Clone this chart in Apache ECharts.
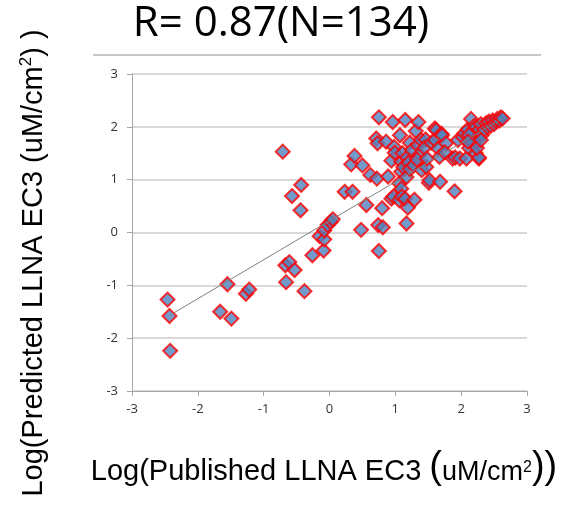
<!DOCTYPE html>
<html>
<head>
<meta charset="utf-8">
<script src="https://cdn.jsdelivr.net/npm/echarts@6/dist/echarts.min.js"></script>
<style>
  html, body { margin: 0; padding: 0; background: #fff; }
  #chart { width: 578px; height: 505px; }
</style>
</head>
<body>
<div id="chart"></div>
<script>
// published (x) vs predicted (y), log units
const points = [
  [-2.46, -1.27], [-2.43, -1.58], [-2.42, -2.24],
  [-1.66, -1.50], [-1.55, -0.98], [-1.49, -1.63], [-1.27, -1.16], [-1.22, -1.08],
  [-0.71, 1.53], [-0.67, -0.62], [-0.66, -0.94], [-0.61, -0.56], [-0.57, 0.69], [-0.53, -0.71],
  [-0.43, 0.90], [-0.44, 0.42], [-0.38, -1.11], [-0.26, -0.43],
  [-0.15, -0.07], [-0.09, -0.34], [-0.08, -0.13], [-0.08, 0.04], [-0.03, 0.14], [0.02, 0.20], [0.05, 0.25],
  [0.23, 0.77], [0.35, 0.77], [0.33, 1.29], [0.38, 1.45], [0.50, 1.27], [0.48, 0.05], [0.56, 0.52],
  [0.62, 1.09], [0.72, 1.02], [0.75, 2.18], [0.71, 1.78], [0.73, 1.69], [0.74, 0.14], [0.81, 0.10],
  [0.75, -0.35], [0.80, 0.46], [0.86, 1.72], [0.89, 1.06], [0.94, 0.64], [0.96, 2.09], [0.94, 1.36],
  [0.98, 1.62], [0.99, 1.51], [0.97, 0.68],
  [1.06, 0.93], [1.07, 1.84], [1.09, 1.34], [1.09, 1.15], [1.06, 0.61], [1.09, 0.83], [1.11, 1.50],
  [1.12, 1.24], [1.10, 0.68], [1.15, 2.13], [1.17, 1.05], [1.15, 0.64], [1.19, 0.47], [1.17, 0.17],
  [1.18, 1.42], [1.20, 1.32], [1.22, 1.70], [1.22, 1.20], [1.25, 1.56], [1.28, 1.27], [1.29, 0.62],
  [1.31, 1.92], [1.34, 1.65], [1.35, 2.09], [1.37, 1.48], [1.39, 1.75], [1.33, 1.38], [1.40, 1.18],
  [1.46, 1.76], [1.47, 1.24], [1.44, 1.60], [1.48, 1.40],
  [1.51, 0.94], [1.52, 0.99], [1.55, 1.70], [1.60, 1.97], [1.60, 1.75], [1.62, 1.94], [1.65, 1.59],
  [1.67, 1.43], [1.68, 0.96], [1.70, 1.87], [1.71, 1.84], [1.77, 1.69], [1.75, 1.52],
  [1.87, 1.40], [1.90, 0.78], [1.91, 1.42], [1.98, 1.40], [1.95, 1.75],
  [2.03, 1.80], [2.05, 1.88], [2.08, 1.40], [2.10, 1.95], [2.12, 1.60], [2.15, 2.15], [2.15, 1.75],
  [2.18, 1.90], [2.20, 2.02], [2.20, 1.66], [2.22, 1.50], [2.23, 2.00], [2.25, 1.80], [2.27, 1.40],
  [2.27, 1.42], [2.28, 1.95], [2.30, 2.05], [2.32, 1.85], [2.35, 1.95], [2.38, 2.07], [2.40, 2.00],
  [2.42, 2.10], [2.45, 2.02], [2.48, 2.12], [2.50, 2.05], [2.53, 2.10], [2.55, 2.15], [2.58, 2.12],
  [2.60, 2.18], [2.63, 2.16], [2.12, 1.85], [2.18, 1.70], [2.24, 1.60], [2.30, 1.75], [2.10, 1.72]
];
const trendX = [-2.43, 2.63];
const trendY = [-1.57, 2.16];
const axisTicks = [-3, -2, -1, 0, 1, 2, 3];

const titleText = 'R= 0.87(N=134)';

const chart = echarts.init(document.getElementById('chart'));

chart.setOption({
  animation: false,
  grid: { left: 132, right: 51, top: 74, bottom: 114 },
  xAxis: {
    type: 'value',
    min: axisTicks[0],
    max: axisTicks[axisTicks.length - 1],
    interval: 1,
    axisLine: { onZero: false, lineStyle: { color: '#a6a6a6', width: 1 } },
    axisTick: { show: true, length: 5, lineStyle: { color: '#a6a6a6' } },
    axisLabel: { color: '#333', fontSize: 13, fontFamily: 'Open Sans', margin: 12 },
    splitLine: { show: false }
  },
  yAxis: {
    type: 'value',
    min: axisTicks[0],
    max: axisTicks[axisTicks.length - 1],
    interval: 1,
    axisLine: { show: true, onZero: false, lineStyle: { color: '#a6a6a6', width: 1 } },
    axisTick: { show: true, length: 5, lineStyle: { color: '#a6a6a6' } },
    axisLabel: { color: '#333', fontSize: 13, fontFamily: 'Open Sans', margin: 14 },
    splitLine: { show: true, lineStyle: { color: '#d9d9d9', width: 2 } }
  },
  graphic: [
    {
      type: 'line',
      shape: { x1: 93, y1: 55, x2: 541, y2: 55 },
      style: { stroke: '#c8c8c8', lineWidth: 2 }
    },
    {
      type: 'text',
      x: 281, y: 24,
      style: {
        text: titleText,
        font: '42px "Open Sans"',
        fill: '#000',
        textAlign: 'center',
        textVerticalAlign: 'middle'
      }
    },
    {
      type: 'text',
      x: 324, y: 466,
      style: {
        text: '{a|Log(Published LLNA EC3 }{p|(}{b|uM/cm}{s|2}{p|))}',
        textAlign: 'center',
        textVerticalAlign: 'middle',
        fill: '#000',
        rich: {
          a: { fontSize: 29, fontFamily: 'Liberation Sans', verticalAlign: 'bottom', lineHeight: 38 },
          p: { fontSize: 38, fontFamily: 'Liberation Sans', verticalAlign: 'bottom', lineHeight: 41 },
          b: { fontSize: 27, fontFamily: 'Liberation Sans', verticalAlign: 'bottom', lineHeight: 37 },
          s: { fontSize: 16, fontFamily: 'Liberation Sans', verticalAlign: 'bottom', lineHeight: 20, padding: [0, 0, 11, 0] }
        }
      }
    },
    {
      type: 'text',
      x: 31, y: 263,
      rotation: Math.PI / 2,
      style: {
        text: '{a|Log(Predicted LLNA EC3 (uM/cm}{s|2}{a|) )}',
        textAlign: 'center',
        textVerticalAlign: 'middle',
        fill: '#000',
        rich: {
          a: { fontSize: 29, fontFamily: 'Liberation Sans', verticalAlign: 'bottom', lineHeight: 35 },
          s: { fontSize: 17, fontFamily: 'Liberation Sans', verticalAlign: 'bottom', lineHeight: 20, padding: [0, 0, 14, 0] }
        }
      }
    }
  ],
  series: [
    {
      type: 'scatter',
      data: points,
      symbol: 'diamond',
      symbolSize: 14,
      itemStyle: { color: '#4f81bd', borderColor: '#ff0000', borderWidth: 2 },
      z: 2
    },
    {
      type: 'line',
      data: trendX.map((x, i) => [x, trendY[i]]),
      showSymbol: false,
      lineStyle: { color: '#7f7f7f', width: 1 },
      z: 3
    }
  ]
});
</script>
</body>
</html>
